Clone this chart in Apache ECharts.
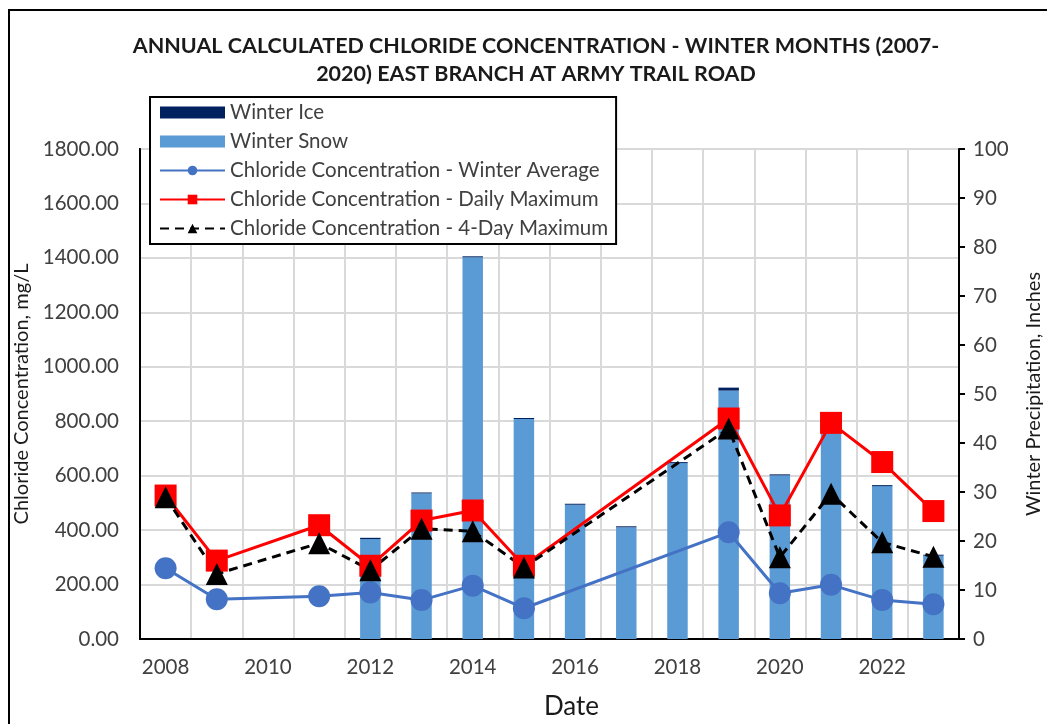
<!DOCTYPE html>
<html>
<head>
<meta charset="utf-8">
<script src="https://cdn.jsdelivr.net/npm/echarts@6/dist/echarts.min.js"></script>
<style>
  html, body { margin: 0; padding: 0; background: #fff; overflow: hidden; width: 1047px; height: 724px; }
  #frame {
    position: absolute; left: 8px; top: 9px; width: 1100px; height: 800px;
    border: 2px solid #000; pointer-events: none;
  }
  #chart { position: absolute; left: 0; top: 0; width: 1047px; height: 724px; }
</style>
</head>
<body>
<div id="chart"></div>
<div id="frame"></div>
<script>
const years = ['2008', '2009', '2010', '2011', '2012', '2013', '2014', '2015',
  '2016', '2017', '2018', '2019', '2020', '2021', '2022', '2023'];

// winter precipitation, inches (right axis)
const winterIce = [null, null, null, null, 0.25, 0.2, 0.2, 0.2, 0.2, 0.2, 0.2, 0.6, 0.2, 0.2, 0.2, 0.2];
const winterSnow = [null, null, null, null, 20.4, 29.7, 77.9, 44.9, 27.4, 22.8, 35.9, 50.7, 33.4, 43.8, 31.2, 17.0];

// chloride concentration, mg/L (left axis)
const winterAverage = [260, 146, null, 157, 171, 143, 196, 113, null, null, null, 392, 168, 199, 143, 128];
const dailyMax = [527, 288, null, 418, 269, 435, 472, 269, null, null, null, 810, 454, 794, 650, 470];
const fourDayMax = [521, 239, null, 352, 253, 405, 396, 263, null, null, null, 773, 300, 534, 355, 302];

const FONT = 'Lato';
const chart = echarts.init(document.getElementById('chart'));

chart.setOption({
  animation: false,
  textStyle: { fontFamily: FONT },
  title: {
    text: 'ANNUAL CALCULATED CHLORIDE CONCENTRATION - WINTER MONTHS (2007-\n2020) EAST BRANCH AT ARMY TRAIL ROAD',
    left: 531,
    top: 27,
    textAlign: 'center',
    textStyle: { fontFamily: FONT, fontSize: 21.5, fontWeight: 'bold', color: '#1a1a1a', lineHeight: 28 }
  },
  legend: {
    orient: 'vertical',
    left: 150,
    top: 97,
    itemWidth: 65,
    itemHeight: 12,
    itemGap: 8,
    padding: [5, 8, 5, 9],
    backgroundColor: '#fff',
    borderColor: '#000',
    borderWidth: 2,
    textStyle: { fontFamily: FONT, fontSize: 20.5, color: '#404040' },
    data: [
      { name: 'Winter Ice', icon: 'rect' },
      { name: 'Winter Snow', icon: 'rect' },
      'Chloride Concentration - Winter Average',
      'Chloride Concentration - Daily Maximum',
      'Chloride Concentration - 4-Day Maximum'
    ]
  },
  grid: {
    left: 140, right: 88, top: 149, bottom: 85,
    outerBoundsMode: 'none',
    show: true, borderColor: '#000', borderWidth: 2
  },
  xAxis: {
    type: 'category',
    data: years,
    boundaryGap: true,
    name: 'Date',
    nameLocation: 'middle',
    nameGap: 55,
    nameTextStyle: { fontFamily: FONT, fontSize: 26, color: '#1a1a1a', padding: [0, 0, 0, 44] },
    axisLine: { lineStyle: { color: '#000', width: 2 } },
    axisTick: { show: false },
    axisLabel: { interval: 1, margin: 18, fontSize: 20.5, color: '#404040', fontFamily: FONT },
    splitLine: { show: true, interval: 0, lineStyle: { color: '#d9d9d9', width: 2 } }
  },
  yAxis: [
    {
      type: 'value',
      min: 0, max: 1800, interval: 200,
      name: 'Chloride Concentration, mg/L',
      nameLocation: 'middle',
      nameRotate: 90,
      nameGap: 94,
      nameTextStyle: { fontFamily: FONT, fontSize: 20, color: '#1a1a1a' },
      axisLine: { show: true, lineStyle: { color: '#000', width: 2 } },
      axisTick: { show: false },
      axisLabel: { fontSize: 20.5, color: '#404040', margin: 21, fontFamily: FONT, formatter: v => v.toFixed(2) },
      splitLine: { show: true, lineStyle: { color: '#d9d9d9', width: 2 } }
    },
    {
      type: 'value',
      min: 0, max: 100, interval: 10,
      name: 'Winter Precipitation, Inches',
      nameLocation: 'middle',
      nameRotate: 90,
      nameGap: 65,
      nameTextStyle: { fontFamily: FONT, fontSize: 20, color: '#1a1a1a' },
      axisLine: { show: true, lineStyle: { color: '#000', width: 2 } },
      axisTick: { show: true, inside: false, length: 6, lineStyle: { color: '#000', width: 2 } },
      axisLabel: { fontSize: 20.5, color: '#404040', margin: 14, fontFamily: FONT },
      splitLine: { show: false }
    }
  ],
  series: [
    {
      name: 'Winter Snow',
      type: 'bar',
      yAxisIndex: 1,
      stack: 'precip',
      barWidth: '40%',
      itemStyle: { color: '#5b9bd5' },
      data: winterSnow
    },
    {
      name: 'Winter Ice',
      type: 'bar',
      yAxisIndex: 1,
      stack: 'precip',
      barWidth: '40%',
      itemStyle: { color: '#002060' },
      data: winterIce
    },
    {
      name: 'Chloride Concentration - Winter Average',
      type: 'line',
      connectNulls: true,
      symbol: 'circle',
      symbolSize: 22,
      lineStyle: { color: '#4472c4', width: 3 },
      itemStyle: { color: '#4472c4' },
      data: winterAverage
    },
    {
      name: 'Chloride Concentration - Daily Maximum',
      type: 'line',
      connectNulls: true,
      symbol: 'rect',
      symbolSize: 22,
      lineStyle: { color: '#ff0000', width: 3 },
      itemStyle: { color: '#ff0000' },
      data: dailyMax
    },
    {
      name: 'Chloride Concentration - 4-Day Maximum',
      type: 'line',
      connectNulls: true,
      symbol: 'triangle',
      symbolSize: 22,
      lineStyle: { color: '#000', width: 3, type: [9, 6] },
      itemStyle: { color: '#000' },
      data: fourDayMax
    }
  ]
});
</script>
</body>
</html>
